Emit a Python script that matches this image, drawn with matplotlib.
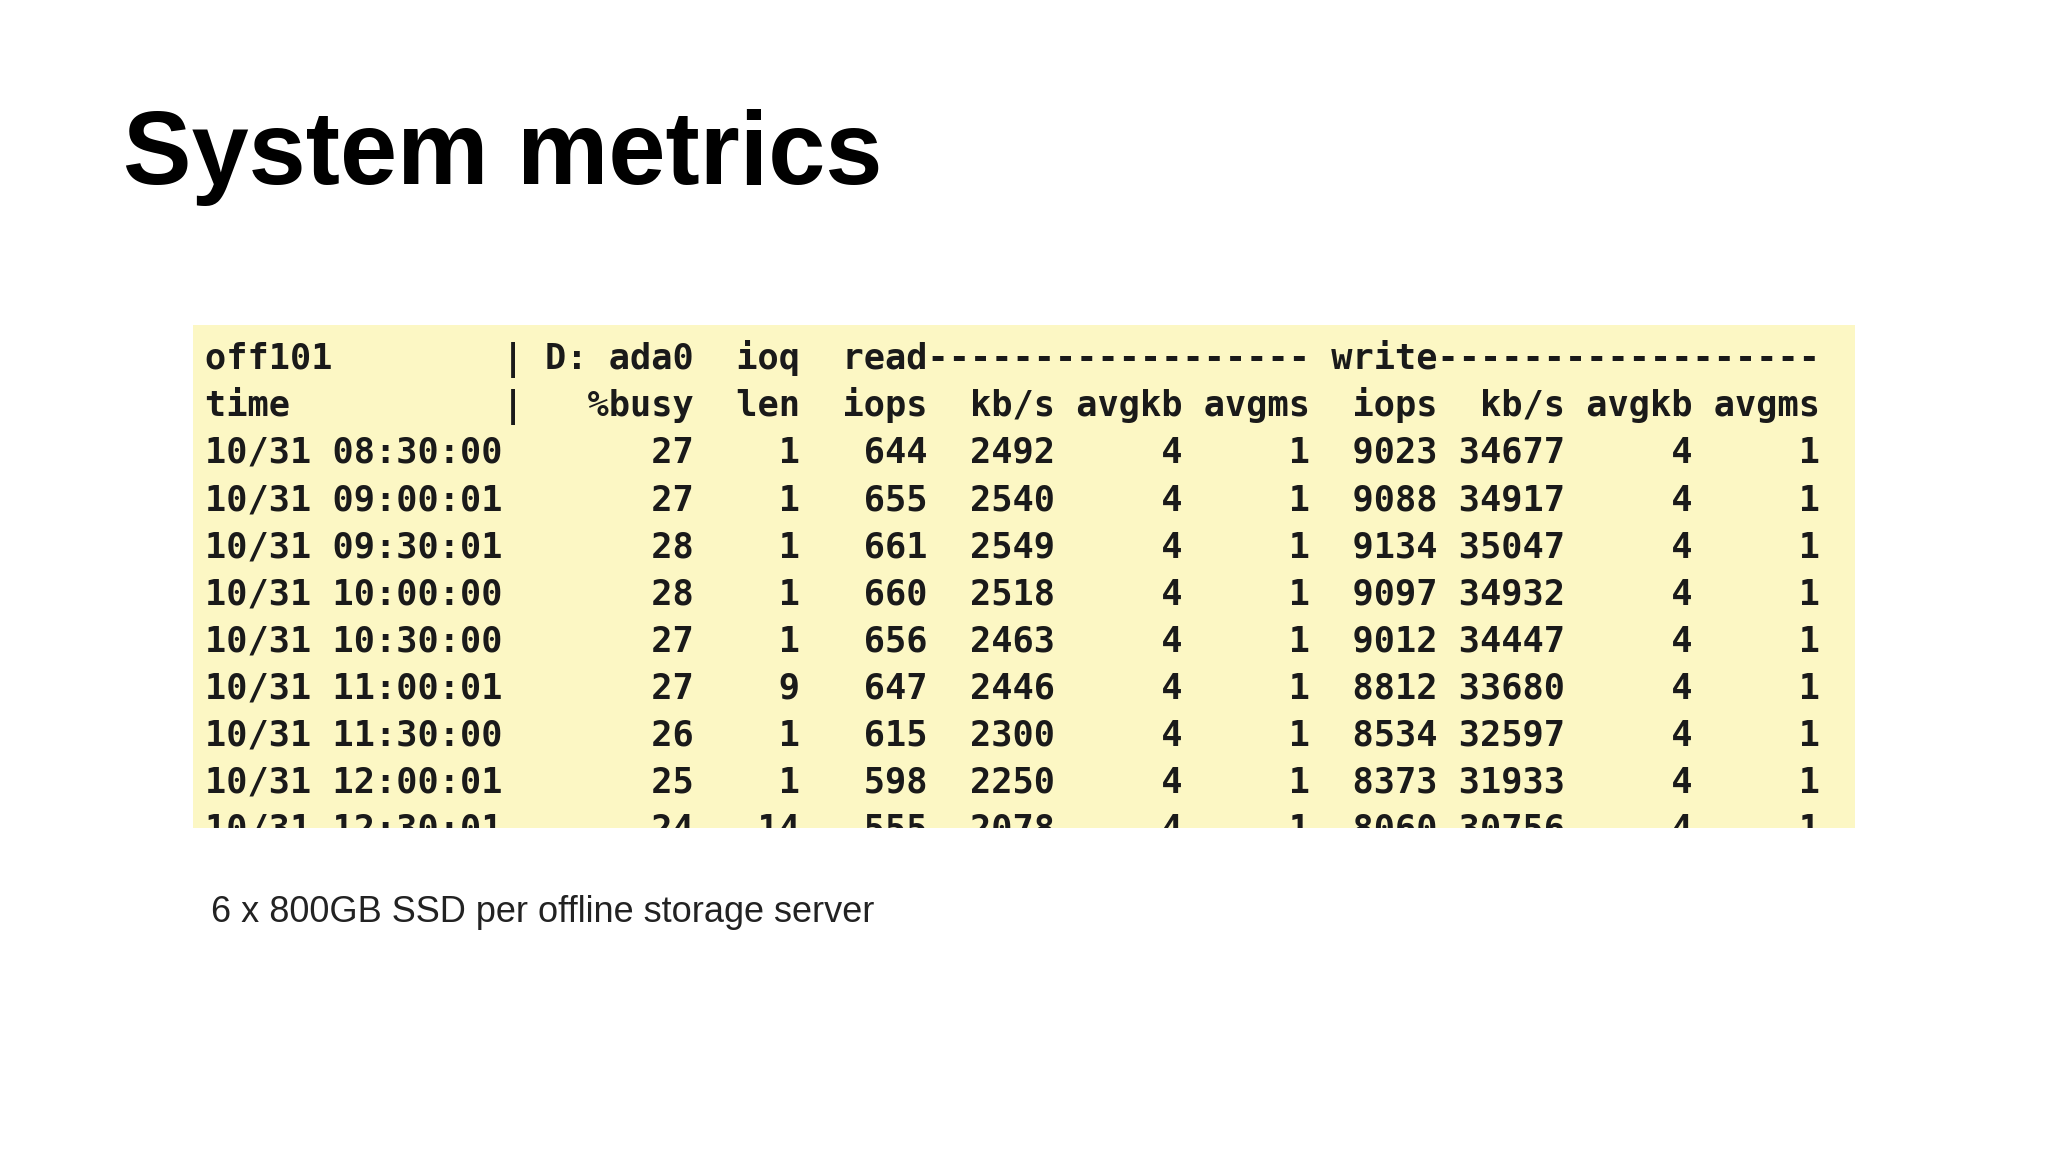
import matplotlib
matplotlib.use("Agg")
import matplotlib.pyplot as plt

# === Data (gstat-style output) ===
host = "off101"
disk = "ada0"
times = ["10/31 08:30:00", "10/31 09:00:01", "10/31 09:30:01", "10/31 10:00:00",
         "10/31 10:30:00", "10/31 11:00:01", "10/31 11:30:00", "10/31 12:00:01",
         "10/31 12:30:01"]
busy = [27, 27, 28, 28, 27, 27, 26, 25, 24]
ioq_len = [1, 1, 1, 1, 1, 9, 1, 1, 14]
r_iops = [644, 655, 661, 660, 656, 647, 615, 598, 555]
r_kbs = [2492, 2540, 2549, 2518, 2463, 2446, 2300, 2250, 2078]
r_avgkb = [4, 4, 4, 4, 4, 4, 4, 4, 4]
r_avgms = [1, 1, 1, 1, 1, 1, 1, 1, 1]
w_iops = [9023, 9088, 9134, 9097, 9012, 8812, 8534, 8373, 8060]
w_kbs = [34677, 34917, 35047, 34932, 34447, 33680, 32597, 31933, 30756]
w_avgkb = [4, 4, 4, 4, 4, 4, 4, 4, 4]
w_avgms = [1, 1, 1, 1, 1, 1, 1, 1, 1]

title = "System metrics"
caption = "6 x 800GB SSD per offline storage server"

# === Build terminal lines ===
lines = []
lines.append(f"{host:<14}| D: {disk}  ioq  read{'-' * 18} write{'-' * 18}")
lines.append(f"{'time':<14}|{'%busy':>8}{'len':>5}{'iops':>6}{'kb/s':>6}{'avgkb':>6}{'avgms':>6}"
             f"{'iops':>6}{'kb/s':>6}{'avgkb':>6}{'avgms':>6}")
for i in range(len(times)):
    lines.append(f"{times[i]}{busy[i]:>9}{ioq_len[i]:>5}{r_iops[i]:>6}{r_kbs[i]:>6}"
                 f"{r_avgkb[i]:>6}{r_avgms[i]:>6}{w_iops[i]:>6}{w_kbs[i]:>6}"
                 f"{w_avgkb[i]:>6}{w_avgms[i]:>6}")

# === Figure ===
fig = plt.figure(figsize=(20.48, 11.52), dpi=100)
fig.patch.set_facecolor("white")

fig.text(0.060, 1 - 0.137, title, fontsize=74, fontweight="bold",
         family="Liberation Sans", va="center", ha="left", color="black")
fig.text(0.103, 1 - 0.792, caption, fontsize=26, family="Liberation Sans",
         va="center", ha="left", color="#222222")

# screenshot area
ax = fig.add_axes([0.094, 1 - 0.719, 0.812, 0.719 - 0.282])
ax.set_facecolor("#fcf7c4")
for s in ax.spines.values():
    s.set_visible(False)
ax.set_xticks([])
ax.set_yticks([])
ax.set_xlim(0, 1)
ax.set_ylim(1, 0)

y0 = 0.0675
dy = 0.0935
for k, line in enumerate(lines):
    ax.text(0.0075, y0 + k * dy, line, family="DejaVu Sans Mono", fontsize=25.4,
            fontweight="semibold", color="#1a1a1a", va="center", ha="left", clip_on=True)

fig.savefig("out.png", dpi=100)
